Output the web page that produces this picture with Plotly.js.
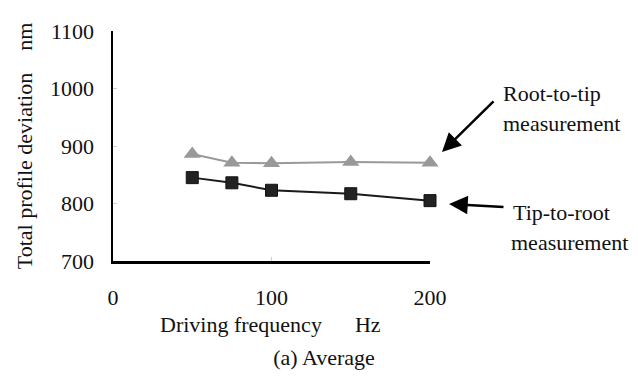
<!DOCTYPE html>
<html>
<head>
<meta charset="utf-8">
<script src="https://cdn.plot.ly/plotly-3.0.1.min.js"></script>
<style>
  html, body { margin: 0; padding: 0; background: #fff; }
  #chart { width: 638px; height: 379px; }
</style>
</head>
<body>
<div id="chart"></div>
<script>
// Driving frequency (Hz)
const frequency = [50, 75, 100, 150, 200];
// Total profile deviation (nm)
const rootToTip = [886, 871, 870, 872, 871];
const tipToRoot = [845, 836, 823, 817, 805];
const yTicks = [700, 800, 900, 1000, 1100];
const xTicks = [0, 100, 200];

const serif = 'Liberation Serif, Times New Roman, serif';
const F = 22;

// plot box in pixels
const L = 113, R = 430, T = 31, B = 261;
const W = 638, H = 379;
const px = x => (x - L) / (R - L);
const py = y => (B - y) / (B - T);

const traces = [
  {
    x: frequency, y: rootToTip, mode: 'lines+markers', name: 'Root-to-tip',
    line: { color: '#999999', width: 2 },
    marker: { symbol: 'triangle-up', size: 15, color: '#999999' },
    cliponaxis: false
  },
  {
    x: frequency, y: tipToRoot, mode: 'lines+markers', name: 'Tip-to-root',
    line: { color: '#1a1a1a', width: 2 },
    marker: { symbol: 'square', size: 12, color: '#222222', line: { color: '#111', width: 1 } },
    cliponaxis: false
  }
];

function label(text, x, y, xanchor) {
  return { text, xref: 'paper', yref: 'paper', x: px(x), y: py(y),
           xanchor: xanchor || 'left', yanchor: 'middle', showarrow: false,
           font: { family: serif, size: F, color: '#111' } };
}
function arrow(tipX, tipY, tailX, tailY) {
  return { text: '', xref: 'paper', yref: 'paper', x: px(tipX), y: py(tipY),
           ax: tailX - tipX, ay: tailY - tipY, showarrow: true,
           arrowhead: 2, arrowsize: 1.5, arrowwidth: 2.5, arrowcolor: '#000',
           standoff: 0, startstandoff: 0 };
}

const layout = {
  width: W, height: H,
  margin: { l: L, r: W - R, t: T, b: H - B, pad: 0 },
  paper_bgcolor: '#fff', plot_bgcolor: '#fff',
  showlegend: false,
  font: { family: serif, size: F, color: '#111' },
  title: {
    text: '(a) Average', xref: 'paper', x: px(324), xanchor: 'center',
    yref: 'container', y: 1 - 357 / H, yanchor: 'middle',
    font: { family: serif, size: F, color: '#111' }
  },
  xaxis: {
    range: [0, 200], tickvals: xTicks, ticktext: xTicks.map(String),
    showgrid: false, zeroline: false,
    showline: true, linecolor: '#000', linewidth: 2.5,
    ticks: 'inside', ticklen: 4, tickcolor: '#d0d0d0', tickwidth: 1,
    ticklabelstandoff: 15,
    tickfont: { family: serif, size: F, color: '#111' }
  },
  yaxis: {
    range: [700, 1100], tickvals: yTicks, ticktext: yTicks.map(String),
    showgrid: false, zeroline: false,
    showline: true, linecolor: '#000', linewidth: 2.5,
    ticks: 'inside', ticklen: 4, tickcolor: '#d0d0d0', tickwidth: 1,
    ticklabelstandoff: 12,
    tickfont: { family: serif, size: F, color: '#111' },
    title: { text: 'Total profile deviation\u00a0\u00a0\u00a0\u00a0nm', standoff: 12,
             font: { family: serif, size: F, color: '#111' } }
  },
  annotations: [
    label('Driving frequency\u00a0\u00a0\u00a0\u00a0\u00a0\u00a0Hz', 270, 324, 'center'),
    label('Root-to-tip', 501, 93),
    label('measurement', 501, 123),
    label('Tip-to-root', 511, 212),
    label('measurement', 509, 242),
    arrow(442, 152, 495, 100),
    arrow(449, 204, 505, 207)
  ]
};

Plotly.newPlot('chart', traces, layout, { staticPlot: true, displayModeBar: false });
</script>
</body>
</html>
